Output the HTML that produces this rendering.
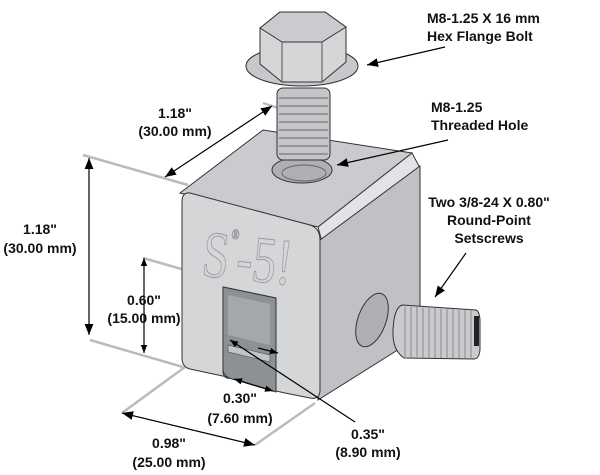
<!DOCTYPE html>
<html><head><meta charset="utf-8"><style>
html,body{margin:0;padding:0;background:#fff;}
svg{display:block;}
text{font-family:"Liberation Sans",Arial,sans-serif;font-weight:bold;font-size:14px;fill:#111;}
</style></head><body>
<svg width="600" height="475" viewBox="0 0 600 475" xmlns="http://www.w3.org/2000/svg">
<defs>
<marker id="a" viewBox="0 0 10 10" refX="10" refY="5" markerWidth="14" markerHeight="8" markerUnits="userSpaceOnUse" orient="auto-start-reverse"><path d="M0,1 L10,5 L0,9 Z" fill="#000"/></marker>
<marker id="b" viewBox="0 0 10 10" refX="10" refY="5" markerWidth="22" markerHeight="11" markerUnits="userSpaceOnUse" orient="auto-start-reverse"><path d="M0,1 L10,5 L0,9 Z" fill="#000"/></marker>
</defs>
<g stroke="#bbb" stroke-width="2.5" fill="none">
<line x1="83" y1="155" x2="188" y2="185"/>
<line x1="90" y1="340" x2="183" y2="367"/>
<line x1="143" y1="258" x2="227" y2="282"/>
<line x1="122" y1="413" x2="185" y2="367"/>
<line x1="255" y1="445" x2="315" y2="403"/>
<line x1="263" y1="103" x2="278" y2="108"/>
</g>
<polygon points="180,193 263,130 412,153 318,227" fill="#c9cbce" stroke="#333" stroke-width="1"/>
<polygon points="318,227 412,153 420,168 322,242" fill="#e2e3e5" stroke="#333" stroke-width="1"/>
<polygon points="320,240 420,166 420,336 318,400" fill="#bfc1c4" stroke="#333" stroke-width="1"/>
<path d="M190,193 L310,225 Q320,228 320,240 L320,390 Q320,400 310,398 L285,393 L276,391 L276,298 L223,287 L223,372 Q224,380 232,378 L190,369 Q182,367 182,358 L182,202 Q182,192 190,193 Z" fill="#d4d6d8" stroke="#333" stroke-width="1"/>
<path d="M223,287 L276,298 L276,392 L236,380 Q224,378 223,370 Z" fill="#8e9194" stroke="#333"/>
<path d="M228,295 L270,304 L270,345 L228,335 Z" fill="#a5a8ab"/>
<path d="M228,345 L270,355 L270,362 L228,352 Z" fill="#c2c4c6" stroke="#555" stroke-width="0.7"/>
<text x="203" y="280" style="font-family:'Liberation Serif',serif;font-weight:normal;font-size:66px;fill:none;stroke:#9a9c9f;stroke-width:1" transform="rotate(6 245 255)" textLength="90" lengthAdjust="spacingAndGlyphs">S<tspan font-size="14" dy="-40">®</tspan><tspan dy="40">-5!</tspan></text>
<ellipse cx="302" cy="170" rx="30" ry="13" fill="#aeb0b3" stroke="#333"/>
<ellipse cx="304" cy="173" rx="22" ry="8" fill="none" stroke="#666"/>
<rect x="277" y="88" width="53" height="72" rx="6" fill="#c3c5c8" stroke="#333"/>
<g stroke="#666" stroke-width="1">
<line x1="279" y1="98" x2="328" y2="98"/><line x1="279" y1="106" x2="328" y2="106"/><line x1="279" y1="114" x2="328" y2="114"/><line x1="279" y1="122" x2="328" y2="122"/><line x1="279" y1="130" x2="328" y2="130"/><line x1="279" y1="138" x2="328" y2="138"/><line x1="279" y1="146" x2="328" y2="146"/><line x1="279" y1="154" x2="328" y2="154"/>
</g>
<ellipse cx="302" cy="66" rx="56" ry="20" fill="#c6c8cb" stroke="#333"/>
<path d="M260,28 L280,12 L325,12 L346,27 L346,62 L322,82 L282,82 L260,64 Z" fill="#d4d6d8" stroke="#333"/>
<path d="M260,28 L280,12 L325,12 L346,27 L322,42 L282,42 Z" fill="#c9cbce" stroke="#333"/>
<line x1="282" y1="42" x2="282" y2="82" stroke="#555"/><line x1="322" y1="42" x2="322" y2="82" stroke="#555"/>
<ellipse cx="372" cy="320" rx="14" ry="28" fill="#aeb0b3" stroke="#333" transform="rotate(20 372 320)"/>
<path d="M402,305 L476,310 Q480,312 480,322 L480,350 Q479,359 474,359 L404,358 Q392,350 393,330 Q394,308 402,305 Z" fill="#c9cbce" stroke="#333"/>
<g stroke="#888" stroke-width="1">
<line x1="405" y1="307" x2="405" y2="357"/><line x1="411" y1="307" x2="411" y2="357"/><line x1="417" y1="307" x2="417" y2="357"/><line x1="423" y1="308" x2="423" y2="358"/><line x1="429" y1="308" x2="429" y2="358"/><line x1="435" y1="308" x2="435" y2="358"/><line x1="441" y1="309" x2="441" y2="358"/><line x1="447" y1="309" x2="447" y2="358"/><line x1="453" y1="309" x2="453" y2="358"/><line x1="459" y1="310" x2="459" y2="358"/><line x1="465" y1="310" x2="465" y2="358"/><line x1="471" y1="310" x2="471" y2="358"/>
</g>
<rect x="474" y="316" width="5" height="30" fill="#222"/>
<g stroke="#000" stroke-width="1.2" fill="none">
<line x1="165" y1="177" x2="272" y2="106" marker-start="url(#b)" marker-end="url(#b)"/>
<line x1="89" y1="158" x2="89" y2="335" marker-start="url(#b)" marker-end="url(#b)"/>
<line x1="144" y1="258" x2="144" y2="353" marker-start="url(#a)" marker-end="url(#a)"/>
<line x1="122" y1="413" x2="255" y2="445" marker-start="url(#b)" marker-end="url(#b)"/>
<line x1="234" y1="379" x2="273" y2="391" marker-start="url(#a)" marker-end="url(#a)"/>
<line x1="355" y1="422" x2="230" y2="340" marker-end="url(#a)"/>
<line x1="258" y1="348" x2="278" y2="353" marker-end="url(#a)"/>
<line x1="445" y1="47" x2="367" y2="65" marker-end="url(#b)"/>
<line x1="448" y1="140" x2="337" y2="165" marker-end="url(#b)"/>
<line x1="466" y1="253" x2="435" y2="297" marker-end="url(#b)"/>
</g>
<text x="427" y="23">M8-1.25 X 16 mm</text>
<text x="427" y="41">Hex Flange Bolt</text>
<text x="431" y="112">M8-1.25</text>
<text x="431" y="130">Threaded Hole</text>
<g text-anchor="middle">
<text x="489" y="207">Two 3/8-24 X 0.80"</text>
<text x="489" y="225">Round-Point</text>
<text x="489" y="243">Setscrews</text>
<text x="175" y="118">1.18"</text>
<text x="175" y="136">(30.00 mm)</text>
<text x="40" y="234">1.18"</text>
<text x="40" y="253">(30.00 mm)</text>
<text x="144" y="305">0.60"</text>
<text x="144" y="323">(15.00 mm)</text>
<text x="240" y="403">0.30"</text>
<text x="240" y="423">(7.60 mm)</text>
<text x="368" y="439">0.35"</text>
<text x="368" y="457">(8.90 mm)</text>
<text x="169" y="448">0.98"</text>
<text x="169" y="467">(25.00 mm)</text>
</g>
</svg>
</body></html>
